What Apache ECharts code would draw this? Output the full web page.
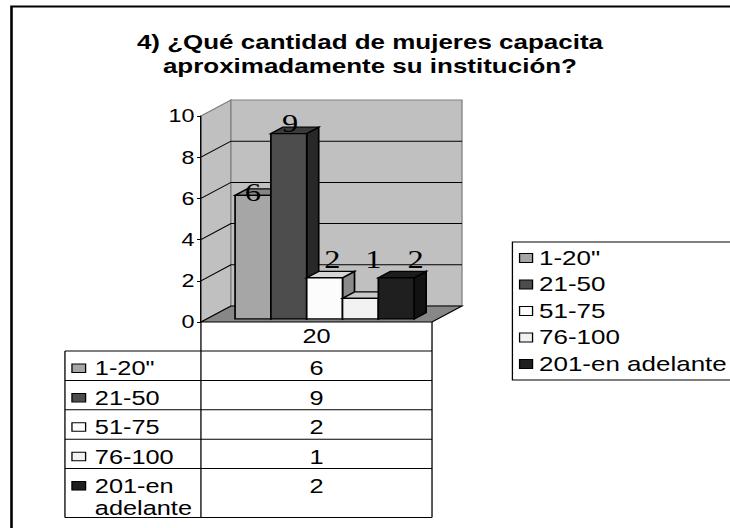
<!DOCTYPE html>
<html>
<head>
<meta charset="utf-8">
<title>Cantidad de mujeres capacitadas</title>
<script src="https://cdn.jsdelivr.net/npm/echarts@6/dist/echarts.min.js"></script>
<style>
html, body { margin: 0; padding: 0; background: #fff; overflow: hidden; }
/* the original picture is stretched sideways, so the chart is drawn narrower and widened */
#chart { width: 562px; height: 528px; transform: scaleX(1.2989); transform-origin: 0 0; }
</style>
</head>
<body>
<div id="chart"></div>
<script>
const categories = ['20'];
const seriesNames = ['1-20"', '21-50', '51-75', '76-100', '201-en adelante'];
const values = [6, 9, 2, 1, 2];
const yTicks = [0, 2, 4, 6, 8, 10];

const FONT = '"Liberation Sans", Arial, sans-serif';
const SERIF = '"Liberation Serif", "Times New Roman", serif';
const DEPTH = { dx: 23.1, dy: -16 };

// face colours and label nudges for each box
const barLook = [
	{ front: '#a6a6a6', top: '#868686', side: '#7a7a7a', lx: 0, ly: -3 },
	{ front: '#4d4d4d', top: '#3a3a3a', side: '#282828', lx: 1, ly: -10 },
	{ front: '#fcfcfc', top: '#d6d6d6', side: '#8a8a8a', lx: 6, ly: -18 },
	{ front: '#f2f2f2', top: '#c8c8c8', side: '#888888', lx: 10, ly: -39 },
	{ front: '#1f1f1f', top: '#1c1c1c', side: '#121212', lx: 15, ly: -18 }
];

const chart = echarts.init(document.getElementById('chart'), null, { renderer: 'svg' });

function renderFrame(params, api) {
	const band = api.size([1, 0])[0];
	const c0 = api.coord([0, 0]);
	const L = c0[0] - band / 2, R = c0[0] + band / 2, y0 = c0[1];
	const yMax = yTicks[yTicks.length - 1];
	const yTop = api.coord([0, yMax])[1];
	const dx = DEPTH.dx, dy = DEPTH.dy;
	const kids = [];

	// side wall + back wall
	kids.push({ type: 'polygon', shape: { points: [[L, yTop], [L + dx, yTop + dy], [L + dx, y0 + dy], [L, y0]] },
		style: { fill: '#c0c0c0', stroke: '#808080', lineWidth: 1 } });
	kids.push({ type: 'rect', shape: { x: L + dx, y: yTop + dy, width: R - L, height: y0 - yTop },
		style: { fill: '#c0c0c0', stroke: '#808080', lineWidth: 1 } });
	// grid lines running along side + back
	yTicks.forEach(function (t) {
		if (t === 0 || t === yMax) return;
		const y = api.coord([0, t])[1];
		kids.push({ type: 'polyline', shape: { points: [[L, y], [L + dx, y + dy], [R + dx, y + dy]] },
			style: { stroke: '#000', lineWidth: 1, fill: null } });
	});
	// floor
	kids.push({ type: 'polygon', shape: { points: [[L, y0], [R, y0], [R + dx, y0 + dy], [L + dx, y0 + dy]] },
		style: { fill: '#878787', stroke: '#000', lineWidth: 1 } });

	// data table under the floor
	const tLeft = L - 104.7;
	const headH = 29, rowH = 29.4, lastH = 49;
	const rowTops = [];
	let y = y0 + headH;
	values.forEach(function (v, i) {
		rowTops.push(y);
		y += (i === values.length - 1) ? lastH : rowH;
	});
	const tBottom = y;
	const line = { stroke: '#000', lineWidth: 1, fill: null };
	kids.push({ type: 'line', shape: { x1: L, y1: y0, x2: L, y2: tBottom }, style: line });
	kids.push({ type: 'line', shape: { x1: R, y1: y0, x2: R, y2: tBottom }, style: line });
	kids.push({ type: 'line', shape: { x1: tLeft, y1: y0 + headH, x2: tLeft, y2: tBottom }, style: line });
	kids.push({ type: 'line', shape: { x1: tLeft, y1: tBottom, x2: R, y2: tBottom }, style: line });
	kids.push({ type: 'text', style: { text: categories[0], x: (L + R) / 2, y: y0 + 15, fill: '#000',
		fontSize: 19.5, fontFamily: FONT, align: 'center', verticalAlign: 'middle' } });
	rowTops.forEach(function (top, i) {
		kids.push({ type: 'line', shape: { x1: tLeft, y1: top, x2: R, y2: top }, style: line });
		kids.push({ type: 'rect', shape: { x: tLeft + 5.4, y: top + 13, width: 10.5, height: 8.5 },
			style: { fill: barLook[i].front, stroke: '#000', lineWidth: 1 } });
		kids.push({ type: 'text', style: { text: seriesNames[i], x: tLeft + 23, y: top + 7, fill: '#000',
			fontSize: 19.5, fontFamily: FONT, lineHeight: 22, width: 80, overflow: 'break',
			align: 'left', verticalAlign: 'top' } });
		kids.push({ type: 'text', style: { text: String(values[i]), x: (L + R) / 2, y: top + 7, fill: '#000',
			fontSize: 19.5, fontFamily: FONT, lineHeight: 22, align: 'center', verticalAlign: 'top' } });
	});
	return { type: 'group', children: kids };
}

function renderBar(params, api) {
	const k = params.seriesIndex - 1;
	const look = barLook[k];
	const band = api.size([1, 0])[0];
	const b = api.coord([api.value(0), 0]);
	const t = api.coord([api.value(0), api.value(1)]);
	const w = band * 0.155;
	const x = b[0] - band / 2 + band * 0.123 + w * k + DEPTH.dx * 0.19;
	const yb = b[1] + DEPTH.dy * 0.19;
	const yt = t[1] + DEPTH.dy * 0.19;
	const ddx = DEPTH.dx * 0.4, ddy = DEPTH.dy * 0.4;
	const edge = { stroke: '#000', lineWidth: 1.3 };
	return {
		type: 'group',
		children: [
			{ type: 'polygon', shape: { points: [[x + w, yt], [x + w + ddx, yt + ddy], [x + w + ddx, yb + ddy], [x + w, yb]] },
				style: Object.assign({ fill: look.side }, edge) },
			{ type: 'polygon', shape: { points: [[x, yt], [x + ddx, yt + ddy], [x + w + ddx, yt + ddy], [x + w, yt]] },
				style: Object.assign({ fill: look.top }, edge) },
			{ type: 'rect', shape: { x: x, y: yt, width: w, height: yb - yt },
				style: Object.assign({ fill: look.front }, edge) },
			{ type: 'text', style: { text: String(api.value(1)), x: x + w / 2 + look.lx, y: yt + look.ly,
				fill: '#000', fontSize: 25, fontFamily: SERIF, align: 'center', verticalAlign: 'middle' } }
		]
	};
}

const series = [{
	name: 'frame',
	type: 'custom',
	renderItem: renderFrame,
	data: [[0, 0]],
	silent: true,
	z: 1
}];
seriesNames.forEach(function (name, i) {
	series.push({
		name: name,
		type: 'custom',
		renderItem: renderBar,
		itemStyle: { color: barLook[i].front, borderColor: '#000', borderWidth: 1 },
		data: [[0, values[i]]],
		z: 2
	});
});

const option = {
	animation: false,
	backgroundColor: '#fff',
	title: {
		text: '4) ¿Qué cantidad de mujeres capacita\naproximadamente su institución?',
		left: 284.8,
		top: 30,
		padding: 0,
		textAlign: 'center',
		textStyle: { fontSize: 20, fontWeight: 'bold', fontFamily: FONT, lineHeight: 24, color: '#000' }
	},
	legend: {
		data: seriesNames,
		orient: 'vertical',
		left: 394.5,
		top: 242,
		padding: [6, 60, 6, 5],
		itemGap: 6.5,
		itemWidth: 10,
		itemHeight: 9,
		icon: 'rect',
		borderColor: '#000',
		borderWidth: 1,
		itemStyle: { borderColor: '#000', borderWidth: 1 },
		textStyle: { fontSize: 20, fontFamily: FONT, color: '#000' }
	},
	grid: { left: 154.7, right: 229.4, top: 116, bottom: 206 },
	xAxis: {
		type: 'category',
		data: categories,
		axisLine: { show: false },
		axisTick: { show: false },
		axisLabel: { show: false }
	},
	yAxis: {
		type: 'value',
		min: 0,
		max: 10,
		interval: 2,
		z: 5,
		axisLine: { show: true, lineStyle: { color: '#000', width: 1 } },
		axisTick: { show: true, length: 3, lineStyle: { color: '#000' } },
		axisLabel: { color: '#000', fontSize: 18, fontFamily: FONT, margin: 5 },
		splitLine: { show: false }
	},
	graphic: [{
		type: 'rect',
		silent: true,
		shape: { x: 8.85, y: 6.5, width: 800, height: 800 },
		style: { fill: 'none', stroke: '#000', lineWidth: 2 }
	}],
	series: series
};
chart.setOption(option);
</script>
</body>
</html>
